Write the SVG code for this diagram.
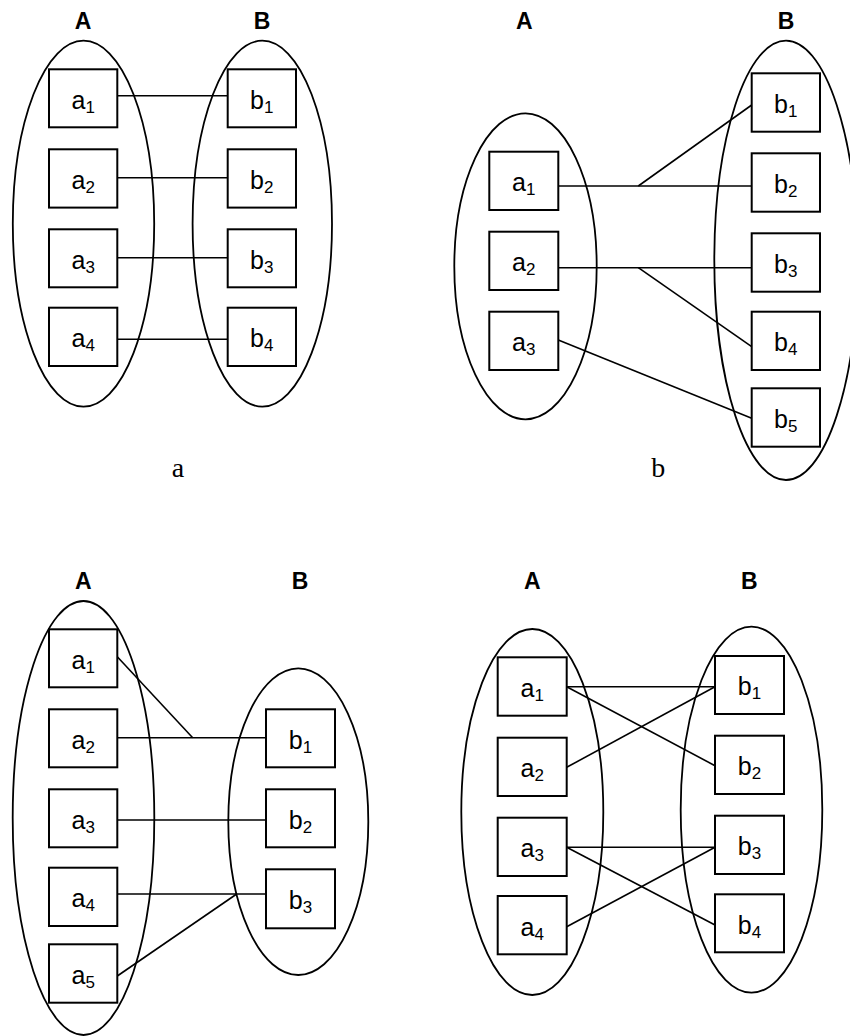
<svg xmlns="http://www.w3.org/2000/svg" width="850" height="1036" viewBox="0 0 850 1036">
<style>
.set{fill:none;stroke:#000;stroke-width:1.8}
.box{fill:#fff;stroke:#000;stroke-width:2}
.ln{fill:none;stroke:#000;stroke-width:1.6}
.lbl{font-family:"Liberation Sans",Arial,sans-serif;font-size:25px;text-anchor:middle;fill:#000}
.sub{font-size:17px}
.hd{font-family:"Liberation Sans",Arial,sans-serif;font-size:23px;font-weight:bold;text-anchor:middle;fill:#000}
.cap{font-family:"Liberation Serif","Times New Roman",serif;font-size:28px;text-anchor:middle;fill:#000}
</style>
<rect width="850" height="1036" fill="#fff"/>

<!-- Panel a -->
<g id="panel-a">
  <text class="hd" x="83" y="29">A</text>
  <text class="hd" x="262" y="29">B</text>
  <ellipse id="a-setA" class="set" cx="83.5" cy="223.7" rx="70.7" ry="183"/>
  <ellipse id="a-setB" class="set" cx="262.3" cy="223.7" rx="69.7" ry="183"/>
  <g id="a-connectors">
    <line class="ln" x1="117.3" y1="95.7" x2="227.7" y2="95.7"/>
    <line class="ln" x1="117.3" y1="177.7" x2="227.7" y2="177.7"/>
    <line class="ln" x1="117.3" y1="257.7" x2="227.7" y2="257.7"/>
    <line class="ln" x1="117.3" y1="339.3" x2="227.7" y2="339.3"/>
  </g>
  <g id="a-a1"><rect class="box" x="49" y="69.3" width="68.3" height="58"/><text class="lbl" x="83.2" y="108.5">a<tspan class="sub" dy="4">1</tspan></text></g>
  <g id="a-a2"><rect class="box" x="49" y="149.3" width="68.3" height="58.3"/><text class="lbl" x="83.2" y="188.5">a<tspan class="sub" dy="4">2</tspan></text></g>
  <g id="a-a3"><rect class="box" x="49" y="229.3" width="68.3" height="58"/><text class="lbl" x="83.2" y="268.5">a<tspan class="sub" dy="4">3</tspan></text></g>
  <g id="a-a4"><rect class="box" x="49" y="307.7" width="68.3" height="58.3"/><text class="lbl" x="83.2" y="347">a<tspan class="sub" dy="4">4</tspan></text></g>
  <g id="a-b1"><rect class="box" x="227.7" y="69.3" width="68.3" height="58"/><text class="lbl" x="261.8" y="108.5">b<tspan class="sub" dy="4">1</tspan></text></g>
  <g id="a-b2"><rect class="box" x="227.7" y="149.3" width="68.3" height="58.3"/><text class="lbl" x="261.8" y="188.5">b<tspan class="sub" dy="4">2</tspan></text></g>
  <g id="a-b3"><rect class="box" x="227.7" y="229.3" width="68.3" height="58"/><text class="lbl" x="261.8" y="268.5">b<tspan class="sub" dy="4">3</tspan></text></g>
  <g id="a-b4"><rect class="box" x="227.7" y="307.7" width="68.3" height="58.3"/><text class="lbl" x="261.8" y="347">b<tspan class="sub" dy="4">4</tspan></text></g>
  <text class="cap" x="178" y="477">a</text>
</g>

<!-- Panel b -->
<g id="panel-b">
  <text class="hd" x="524.3" y="29">A</text>
  <text class="hd" x="786" y="29">B</text>
  <ellipse id="b-setA" class="set" cx="525.5" cy="266.3" rx="71.2" ry="153"/>
  <ellipse id="b-setB" class="set" cx="786" cy="260.3" rx="71.7" ry="219.7"/>
  <g id="b-connectors">
    <line class="ln" x1="558.3" y1="186" x2="751.7" y2="186"/>
    <line class="ln" x1="638.3" y1="186" x2="751.7" y2="105"/>
    <line class="ln" x1="558.3" y1="267.7" x2="751.7" y2="267.7"/>
    <line class="ln" x1="638.3" y1="267.7" x2="751.7" y2="346.7"/>
    <line class="ln" x1="558.3" y1="340" x2="751.7" y2="418.3"/>
  </g>
  <g id="b-a1"><rect class="box" x="489.3" y="151.7" width="69" height="58.3"/><text class="lbl" x="523.8" y="191.3">a<tspan class="sub" dy="4">1</tspan></text></g>
  <g id="b-a2"><rect class="box" x="489.3" y="231.7" width="69" height="58.3"/><text class="lbl" x="523.8" y="271.3">a<tspan class="sub" dy="4">2</tspan></text></g>
  <g id="b-a3"><rect class="box" x="489.3" y="311.7" width="69" height="58.3"/><text class="lbl" x="523.8" y="351.3">a<tspan class="sub" dy="4">3</tspan></text></g>
  <g id="b-b1"><rect class="box" x="751.7" y="73.3" width="68.3" height="58.4"/><text class="lbl" x="785.8" y="113">b<tspan class="sub" dy="4">1</tspan></text></g>
  <g id="b-b2"><rect class="box" x="751.7" y="153.3" width="68.3" height="58.4"/><text class="lbl" x="785.8" y="193">b<tspan class="sub" dy="4">2</tspan></text></g>
  <g id="b-b3"><rect class="box" x="751.7" y="233.3" width="68.3" height="58.4"/><text class="lbl" x="785.8" y="273">b<tspan class="sub" dy="4">3</tspan></text></g>
  <g id="b-b4"><rect class="box" x="751.7" y="311.7" width="68.3" height="58.3"/><text class="lbl" x="785.8" y="351.3">b<tspan class="sub" dy="4">4</tspan></text></g>
  <g id="b-b5"><rect class="box" x="751.7" y="388.3" width="68.3" height="58.4"/><text class="lbl" x="785.8" y="428">b<tspan class="sub" dy="4">5</tspan></text></g>
  <text class="cap" x="658.3" y="477">b</text>
</g>

<!-- Panel c -->
<g id="panel-c">
  <text class="hd" x="83.3" y="589">A</text>
  <text class="hd" x="300" y="589">B</text>
  <ellipse id="c-setA" class="set" cx="83.5" cy="818" rx="70.8" ry="217"/>
  <ellipse id="c-setB" class="set" cx="298.3" cy="821.7" rx="70" ry="153.3"/>
  <g id="c-connectors">
    <line class="ln" x1="117.3" y1="656.7" x2="192.7" y2="737.7"/>
    <line class="ln" x1="117.3" y1="737.7" x2="266" y2="737.7"/>
    <line class="ln" x1="117.3" y1="820" x2="266" y2="820"/>
    <line class="ln" x1="117.3" y1="894" x2="266" y2="894"/>
    <line class="ln" x1="117.3" y1="976" x2="236.7" y2="894"/>
  </g>
  <g id="c-a1"><rect class="box" x="49" y="629.3" width="68.3" height="58"/><text class="lbl" x="83.2" y="668.5">a<tspan class="sub" dy="4">1</tspan></text></g>
  <g id="c-a2"><rect class="box" x="49" y="709.3" width="68.3" height="58"/><text class="lbl" x="83.2" y="748.5">a<tspan class="sub" dy="4">2</tspan></text></g>
  <g id="c-a3"><rect class="box" x="49" y="789.3" width="68.3" height="58"/><text class="lbl" x="83.2" y="828.5">a<tspan class="sub" dy="4">3</tspan></text></g>
  <g id="c-a4"><rect class="box" x="49" y="867.7" width="68.3" height="58.3"/><text class="lbl" x="83.2" y="907">a<tspan class="sub" dy="4">4</tspan></text></g>
  <g id="c-a5"><rect class="box" x="49" y="944.3" width="68.3" height="58.4"/><text class="lbl" x="83.2" y="983.8">a<tspan class="sub" dy="4">5</tspan></text></g>
  <g id="c-b1"><rect class="box" x="266" y="709.3" width="69" height="58"/><text class="lbl" x="300.5" y="748.5">b<tspan class="sub" dy="4">1</tspan></text></g>
  <g id="c-b2"><rect class="box" x="266" y="789.3" width="69" height="58"/><text class="lbl" x="300.5" y="828.5">b<tspan class="sub" dy="4">2</tspan></text></g>
  <g id="c-b3"><rect class="box" x="266" y="869.3" width="69" height="59"/><text class="lbl" x="300.5" y="909">b<tspan class="sub" dy="4">3</tspan></text></g>
</g>

<!-- Panel d -->
<g id="panel-d">
  <text class="hd" x="532.3" y="589">A</text>
  <text class="hd" x="749.3" y="589">B</text>
  <ellipse id="d-setA" class="set" cx="532.3" cy="812" rx="71" ry="183"/>
  <ellipse id="d-setB" class="set" cx="751.5" cy="809.7" rx="70.8" ry="183"/>
  <g id="d-connectors">
    <line class="ln" x1="566.7" y1="686.7" x2="715" y2="686.7"/>
    <line class="ln" x1="566.7" y1="686.7" x2="715" y2="765.7"/>
    <line class="ln" x1="566.7" y1="767.3" x2="715" y2="686.7"/>
    <line class="ln" x1="566.7" y1="847.3" x2="715" y2="847.3"/>
    <line class="ln" x1="566.7" y1="847.3" x2="715" y2="925"/>
    <line class="ln" x1="566.7" y1="926.7" x2="715" y2="847.3"/>
  </g>
  <g id="d-a1"><rect class="box" x="497.7" y="657.3" width="69" height="58.4"/><text class="lbl" x="532.2" y="697">a<tspan class="sub" dy="4">1</tspan></text></g>
  <g id="d-a2"><rect class="box" x="497.7" y="737.7" width="69" height="58.3"/><text class="lbl" x="532.2" y="777.3">a<tspan class="sub" dy="4">2</tspan></text></g>
  <g id="d-a3"><rect class="box" x="497.7" y="817.7" width="69" height="58.3"/><text class="lbl" x="532.2" y="857.3">a<tspan class="sub" dy="4">3</tspan></text></g>
  <g id="d-a4"><rect class="box" x="497.7" y="896" width="69" height="58.3"/><text class="lbl" x="532.2" y="935.5">a<tspan class="sub" dy="4">4</tspan></text></g>
  <g id="d-b1"><rect class="box" x="715" y="656" width="69" height="58"/><text class="lbl" x="749.5" y="695.3">b<tspan class="sub" dy="4">1</tspan></text></g>
  <g id="d-b2"><rect class="box" x="715" y="735.7" width="69" height="58.3"/><text class="lbl" x="749.5" y="775.3">b<tspan class="sub" dy="4">2</tspan></text></g>
  <g id="d-b3"><rect class="box" x="715" y="815.7" width="69" height="58.3"/><text class="lbl" x="749.5" y="855.3">b<tspan class="sub" dy="4">3</tspan></text></g>
  <g id="d-b4"><rect class="box" x="715" y="894.3" width="69" height="58"/><text class="lbl" x="749.5" y="933.5">b<tspan class="sub" dy="4">4</tspan></text></g>
</g>
</svg>
